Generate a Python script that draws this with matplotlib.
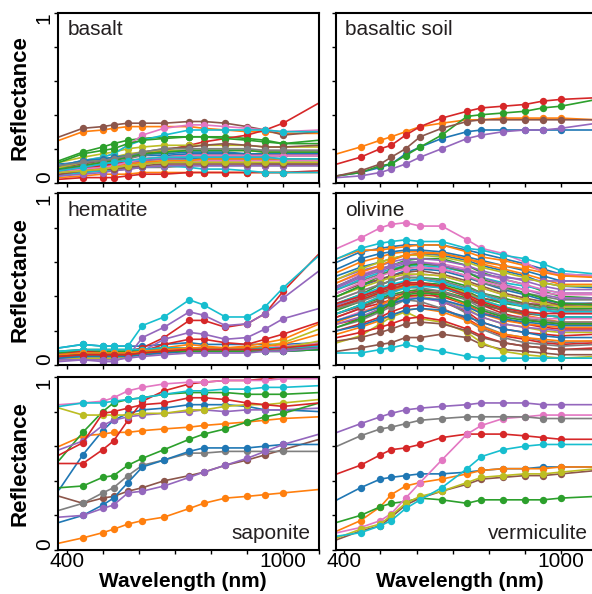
import matplotlib
matplotlib.use("Agg")
import matplotlib.pyplot as plt
import numpy as np

plt.rcParams['font.family'] = ['Liberation Sans', 'DejaVu Sans']

# wavelengths (nm); first and last are curve ends without markers
wavelengths = [380, 445, 500, 530, 570, 610, 670, 740, 780, 840, 900, 950, 1000, 1100]

# reflectance values in percent, one list per spectrum
basalt = [
    [11,12,13,14,15,16,16,17,17,17,17,16,16,16],
    [25,30,31,32,33,33,33,33,32,31,30,30,29,29],
    [13,18,21,23,25,26,27,27,27,27,26,25,23,25],
    [8,10,12,13,15,17,19,22,24,26,28,31,35,47],
    [6,8,9,10,11,12,12,12,12,12,12,11,11,11],
    [27,32,33,34,35,35,35,36,36,35,33,31,28,30],
    [10,13,15,17,22,28,32,34,34,33,32,31,30,31],
    [8,10,11,12,14,16,18,19,19,19,19,19,19,19],
    [12,15,17,18,20,21,22,22,22,22,22,21,21,21],
    [10,13,15,17,22,25,28,31,31,31,31,31,30,30],
    [8,9,10,11,12,13,14,14,14,14,14,14,13,13],
    [3,4,5,5,5,6,6,6,6,6,6,6,6,6],
    [12,17,19,20,23,25,26,27,27,26,25,24,23,23],
    [2,3,3,3,4,5,5,6,6,6,6,6,6,7],
    [7,9,10,11,12,13,14,15,15,15,15,15,14,14],
    [9,11,13,14,16,18,20,21,22,23,22,21,21,22],
    [5,7,8,9,10,11,12,13,13,13,13,13,13,13],
    [5,6,7,7,8,9,9,10,10,10,10,10,10,10],
    [9,12,14,15,17,18,19,19,19,19,19,18,18,18],
    [4,6,7,8,9,9,10,9,8,8,7,6,6,6],
    [10,13,14,15,16,17,17,18,18,18,17,17,17,17],
    [6,8,9,10,11,12,13,13,14,14,14,14,14,14],
    [8,10,12,13,15,17,18,19,19,19,19,18,18,18],
    [7,9,10,11,13,14,15,16,16,16,16,16,16,16],
    [4,5,6,7,8,9,10,10,10,10,10,10,10,10],
    [5,7,8,8,9,10,11,11,11,11,11,11,11,11],
    [6,8,9,10,12,14,15,16,16,16,16,16,16,16],
    [10,12,13,14,16,18,20,20,20,20,20,19,19,19],
    [6,7,8,9,10,11,12,12,12,12,12,12,12,12],
    [7,9,11,12,13,14,15,15,15,15,15,15,14,14],
]

basaltic_soil = [
    [4,6,9,11,17,21,26,30,31,31,31,31,31,31],
    [17,21,25,27,30,33,35,37,37,38,38,38,38,37],
    [4,6,10,11,16,21,28,39,40,41,42,44,45,49],
    [11,15,20,22,28,33,38,42,44,45,46,48,49,50],
    [3,4,6,8,11,15,20,26,28,30,31,31,32,35],
    [4,7,11,15,20,27,32,36,37,37,37,37,37,37],
]

hematite = [
    [10,12,11,11,11,11,12,13,12,12,12,12,12,13],
    [5,6,6,6,7,8,10,12,11,10,11,13,15,24],
    [8,9,9,9,9,9,10,9,9,9,9,9,10,11],
    [7,8,7,7,8,10,16,26,26,22,24,30,43,65],
    [2,3,2,2,5,16,22,31,29,23,24,30,39,55],
    [6,7,7,7,7,8,9,9,9,9,9,9,10,11],
    [4,5,5,5,6,7,8,9,9,9,9,10,11,13],
    [7,8,8,8,8,8,9,9,9,9,9,9,9,10],
    [5,6,6,6,6,7,8,9,9,9,10,11,13,21],
    [10,12,11,11,11,23,28,38,35,28,28,34,45,64],
    [6,7,7,7,7,8,9,10,10,10,10,10,10,11],
    [4,5,5,5,6,7,8,9,9,9,9,10,10,12],
    [7,8,8,8,8,9,10,10,10,10,10,10,10,12],
    [6,8,7,7,7,8,12,15,15,13,12,15,18,25],
    [4,5,5,5,6,8,15,19,18,15,16,21,27,33],
    [5,6,6,6,6,7,8,9,9,9,9,9,10,10],
    [3,4,4,4,5,6,7,8,8,8,8,9,10,12],
    [6,7,7,7,7,7,8,8,8,8,8,8,8,9],
    [3,4,4,4,5,6,7,8,8,8,8,9,10,14],
    [8,9,9,9,9,9,10,10,10,10,10,10,10,11],
    [4,5,5,5,5,6,7,8,8,8,8,8,8,9],
    [6,7,7,7,7,8,9,10,10,10,10,11,12,18],
    [5,6,6,6,6,7,8,8,8,8,8,8,8,9],
    [5,6,6,6,6,7,8,9,9,9,9,9,10,12],
    [3,3,3,3,4,5,6,7,7,7,7,8,8,10],
]

olivine = [
    [60,66,68,69,70,70,70,67,65,62,59,56,53,52],
    [62,67,67,68,69,70,70,66,63,61,58,55,52,52],
    [46,52,56,58,61,62,62,58,54,50,47,43,40,39],
    [24,27,32,35,39,40,37,31,25,21,19,18,17,18],
    [50,55,58,60,62,62,61,58,55,52,49,46,44,44],
    [8,10,12,13,16,16,18,16,12,9,8,7,6,6],
    [68,74,80,82,83,81,81,73,68,65,60,54,53,52],
    [28,33,38,42,47,45,38,30,23,18,16,14,13,14],
    [13,17,24,28,31,27,25,19,13,8,6,5,4,5],
    [62,68,71,72,73,72,72,68,67,64,62,59,55,53],
    [40,46,50,52,55,56,55,51,48,44,41,38,36,36],
    [30,35,40,43,46,47,45,40,36,32,29,27,25,25],
    [32,37,43,47,48,48,47,43,39,36,34,33,32,33],
    [20,24,28,31,34,35,33,27,22,17,15,13,12,13],
    [35,40,44,46,49,50,48,44,41,37,34,32,30,30],
    [42,47,50,52,54,55,53,49,46,42,39,37,35,35],
    [38,43,47,49,52,53,52,48,45,41,38,35,33,33],
    [22,26,31,34,38,37,33,26,21,16,13,12,11,12],
    [26,30,34,37,40,40,38,33,28,24,22,20,19,19],
    [7,7,9,10,12,10,8,5,4,4,4,4,4,4],
    [52,57,60,62,64,65,64,61,58,55,52,48,46,45],
    [18,22,26,29,32,33,31,26,22,18,16,15,14,14],
    [36,41,47,49,51,51,50,46,42,39,36,34,33,33],
    [28,33,36,38,40,41,40,35,31,27,24,22,21,21],
    [24,28,33,36,39,39,37,32,28,24,22,21,20,20],
    [34,39,43,45,47,47,46,42,39,37,36,35,35,36],
    [26,31,35,37,39,39,38,34,31,29,28,27,27,27],
    [44,49,53,55,57,57,56,52,48,45,42,40,38,38],
    [40,45,49,51,53,53,52,48,45,41,38,36,34,34],
    [44,50,54,56,58,58,57,54,51,48,46,44,42,42],
    [20,23,27,29,32,33,32,28,25,21,19,17,16,16],
    [54,60,63,65,66,66,65,62,59,56,53,50,47,47],
    [30,35,39,41,43,44,43,39,36,32,30,29,28,28],
    [16,19,22,24,27,28,26,21,17,13,11,10,9,10],
    [45,51,55,57,59,59,58,54,51,47,44,41,39,39],
    [14,16,19,21,24,25,24,20,16,13,11,10,9,9],
    [48,53,56,58,60,60,59,56,53,50,47,44,42,42],
    [38,43,47,49,51,51,49,45,42,38,35,33,32,32],
    [33,38,42,44,47,47,46,42,38,34,31,29,28,28],
    [36,41,45,47,49,50,48,44,41,37,34,32,31,31],
    [56,62,65,66,67,67,66,63,61,58,55,52,49,49],
    [25,30,35,38,42,43,41,35,30,26,24,23,22,22],
    [40,46,52,55,58,59,58,54,50,46,42,39,36,35],
    [34,38,42,44,47,47,45,40,35,30,27,25,24,24],
    [46,52,56,58,60,60,58,55,53,51,50,49,49,49],
    [30,34,38,40,42,43,42,38,35,32,30,29,28,28],
    [42,48,52,54,56,57,56,52,49,46,44,42,41,41],
    [33,37,41,43,45,45,43,38,33,29,27,26,25,25],
    [50,56,60,62,64,64,63,60,57,54,51,48,46,46],
    [30,35,40,42,45,46,45,41,38,34,31,29,28,28],
    [26,30,34,36,38,39,38,34,30,27,25,24,23,23],
    [48,54,58,61,64,65,65,62,60,58,56,54,52,51],
    [22,27,32,36,41,42,41,36,32,28,26,25,24,24],
    [36,40,44,46,48,48,46,41,37,33,31,30,30,30],
]

saponite = [
    [35,55,69,75,79,81,82,84,84,84,83,81,81,80],
    [60,66,67,68,68,69,70,71,72,73,74,75,76,77],
    [52,68,80,85,87,88,90,91,91,91,90,90,90,91],
    [50,50,58,63,75,86,92,96,97,98,98,99,100,100],
    [58,63,72,75,77,78,79,80,81,80,81,81,81,82],
    [31,27,30,31,34,36,40,43,45,49,52,55,58,64],
    [84,85,86,88,92,94,96,97,97,98,98,98,99,99],
    [23,27,33,36,43,49,52,56,56,57,57,57,57,57],
    [82,78,78,78,78,79,79,81,81,83,84,84,85,87],
    [83,85,85,86,87,88,90,92,92,93,93,94,94,95],
    [16,20,26,30,39,48,52,57,59,59,59,60,61,61],
    [4,7,10,12,15,17,19,24,27,30,31,32,33,35],
    [36,37,42,43,49,53,58,64,67,70,74,77,79,85],
    [55,62,79,80,82,84,85,88,88,87,85,84,83,85],
    [19,20,24,26,33,34,37,42,45,49,53,57,61,67],
]

vermiculite = [
    [29,36,41,42,43,44,44,45,46,47,47,48,48,48],
    [11,17,25,32,37,39,41,44,46,47,47,47,48,48],
    [16,20,25,27,28,30,29,27,29,29,29,29,30,31],
    [44,49,55,58,59,61,65,67,67,67,66,65,64,64],
    [68,73,77,79,81,82,83,84,85,85,85,84,84,84],
    [6,11,14,19,26,30,34,38,41,42,43,43,44,46],
    [10,13,17,21,30,39,52,67,72,76,77,78,78,78],
    [60,66,70,71,73,75,76,77,77,77,77,76,76,76],
    [7,12,15,20,27,31,34,39,42,43,44,44,45,47],
    [8,10,14,17,24,29,36,47,54,58,60,61,61,61],
]

panel_names = ["basalt", "basaltic soil", "hematite", "olivine", "saponite", "vermiculite"]
panel_data = [basalt, basaltic_soil, hematite, olivine, saponite, vermiculite]

colors = plt.rcParams['axes.prop_cycle'].by_key()['color']

FW, FH = 592, 594
fig = plt.figure(figsize=(FW / 100, FH / 100), dpi=100)

col_left = [58.3, 336.0]
col_w = 261.0
rows = [(12.7, 182.7), (193.5, 365.0), (377.0, 550.0)]

text_color = '#231f20'
wl = np.array(wavelengths, dtype=float)

for i, (name, data) in enumerate(zip(panel_names, panel_data)):
    r, c = divmod(i, 2)
    top, bot = rows[r]
    ax = fig.add_axes([col_left[c] / FW, 1 - bot / FH, col_w / FW, (bot - top) / FH])
    for k, spec in enumerate(data):
        ax.plot(wl, np.array(spec) / 100.0, color=colors[k % 10], lw=1.2,
                marker='o', markersize=5.3, markeredgewidth=0,
                markevery=list(range(1, len(wl) - 1)))
    ax.set_xlim(377, 1100)
    ax.set_ylim(0, 1.0)
    for s in ax.spines.values():
        s.set_linewidth(1.5)
        s.set_color('black')
    ax.set_xticks(np.arange(400, 1101, 100))
    if r == 2:
        ax.set_xticklabels(['400', '', '', '', '', '', '1000', ''])
        ax.set_xlabel('Wavelength (nm)', fontsize=15, fontweight='bold')
        ax.xaxis.set_label_coords(0.476, -0.128)
    else:
        ax.set_xticklabels([])
    ax.set_yticks([0, 0.2, 0.4, 0.6, 0.8, 1.0])
    if c == 0:
        labs = ax.set_yticklabels(['0', '', '', '', '', '1'], rotation=90)
        labs[0].set_va('bottom')
        labs[-1].set_va('top')
        ax.set_ylabel('Reflectance', fontsize=16, fontweight='bold')
        ax.yaxis.set_label_coords(-0.105, 0.5)
    else:
        ax.set_yticklabels([])
    ax.tick_params(axis='both', direction='out', length=2.8, width=1.0,
                   labelsize=15, colors='black')
    ax.tick_params(axis='x', pad=-1.5)
    ax.tick_params(axis='y', pad=0.5)
    if r == 2:
        ax.text(0.965, 0.065, name, transform=ax.transAxes, ha='right', va='baseline',
                fontsize=15, color=text_color)
    else:
        ax.text(0.035, 0.955, name, transform=ax.transAxes, ha='left', va='top',
                fontsize=15, color=text_color)

fig.savefig('out.png', dpi=100)
